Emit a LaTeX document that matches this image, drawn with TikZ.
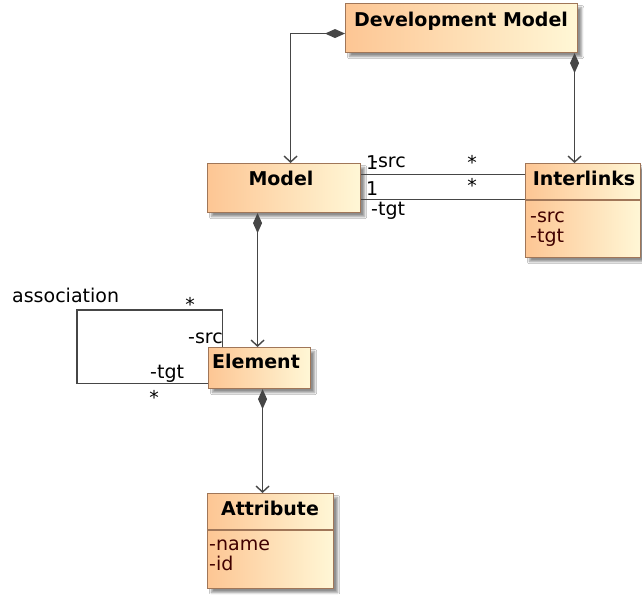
\documentclass[tikz,border=0pt]{standalone}
\usepackage{fontspec}
\setmainfont{DejaVu Sans}
\usetikzlibrary{arrows.meta,shadows.blur}

\definecolor{edgegray}{RGB}{70,70,70}
\definecolor{boxline}{RGB}{160,118,88}
\definecolor{peach}{RGB}{253,198,148}
\definecolor{cream}{RGB}{255,247,214}
\definecolor{attrtext}{RGB}{64,0,0}

\tikzset{
  umlbox/.style={draw=boxline, line width=1.1pt, left color=peach, right color=cream,
    anchor=north west, inner sep=0pt,
    blur shadow={shadow xshift=4pt, shadow yshift=-4pt, shadow blur steps=6, shadow opacity=45}},
  compo/.style={draw=edgegray, line width=1.4pt,
    arrows={Diamond[length=20pt,width=9pt,fill=edgegray]-Straight Barb[length=6pt,width=13pt]}},
  assoc/.style={draw=edgegray, line width=1.4pt},
  sepline/.style={draw=boxline, line width=1.1pt},
  clsname/.style={font=\bfseries\fontsize{19}{22}\selectfont, inner sep=0pt, anchor=base},
  lbl/.style={font=\fontsize{19}{22}\selectfont, inner sep=0pt, anchor=base west},
  mult/.style={font=\fontsize{19}{22}\selectfont, inner sep=0pt, anchor=center},
  attr/.style={lbl, text=attrtext}
}

\begin{document}
\begin{tikzpicture}[x=1pt, y=-1pt]
  \fill[white] (0,0) rectangle (642,594);
  \useasboundingbox (0,0) rectangle (642,594);

  % class boxes
  \node[umlbox, minimum width=232pt, minimum height=49pt] (dm) at (345,3) {};
  \node[umlbox, minimum width=153pt, minimum height=49pt] (model) at (207,163) {};
  \node[umlbox, minimum width=115pt, minimum height=94pt] (il) at (525,163) {};
  \node[umlbox, minimum width=102pt, minimum height=41pt] (el) at (208,347) {};
  \node[umlbox, minimum width=126pt, minimum height=95pt] (at) at (207,493) {};

  % compartment separators
  \draw[sepline] ([yshift=-37pt]il.north west) -- ([yshift=-37pt]il.north east);
  \draw[sepline] ([yshift=-37pt]at.north west) -- ([yshift=-37pt]at.north east);

  % class names
  \node[clsname] (dmname) at (461,27) {Development Model};
  \node[clsname] (modelname) at (281,185) {Model};
  \node[clsname] (ilname) at (584,185) {Interlinks};
  \node[clsname] (elname) at (256,368) {Element};
  \node[clsname] (atname) at (270,515) {Attribute};

  % attributes
  \node[attr] (ilsrc) at (530,222) {-src};
  \node[attr] (iltgt) at (530,242) {-tgt};
  \node[attr] (atnm) at (209,550) {-name};
  \node[attr] (atid) at (209,570) {-id};

  % composition links
  \draw[compo] ([yshift=-5.5pt]dm.west) -| ([xshift=6.5pt]model.north);
  \draw[compo] ([xshift=113pt]dm.south) -- ([xshift=113pt]dm.south |- il.north);
  \draw[compo] ([xshift=-26.5pt]model.south) -- ([xshift=-26.5pt]model.south |- el.north);
  \draw[compo] ([xshift=3pt]el.south) -- ([xshift=3pt]el.south |- at.north);

  % associations between Model and Interlinks
  \draw[assoc] ([yshift=13.5pt]model.east) -- ([yshift=13.5pt]model.east -| il.west);
  \draw[assoc] ([yshift=-11.5pt]model.east) -- ([yshift=-11.5pt]model.east -| il.west);
  \node[lbl] (m1a) at (366,169) {1};
  \node[lbl] (srcA) at (371,167) {-src};
  \node[mult] (s1a) at (472,162) {*};
  \node[lbl] (m1b) at (366,195) {1};
  \node[mult] (s1b) at (472,185) {*};
  \node[lbl] (tgtB) at (371,215) {-tgt};

  % reflexive association on Element
  \coordinate (loopcorner) at (77,310);
  \draw[assoc] ([xshift=-37pt]el.north) |- (loopcorner) |- ([yshift=-15.5pt]el.west);
  \node[lbl] (assocname) at (12,302) {association};
  \node[mult] (s2a) at (190,304) {*};
  \node[lbl] (srcC) at (188,343) {-src};
  \node[lbl] (tgtC) at (150,378) {-tgt};
  \node[mult] (s2b) at (154,397) {*};
\end{tikzpicture}
\end{document}
